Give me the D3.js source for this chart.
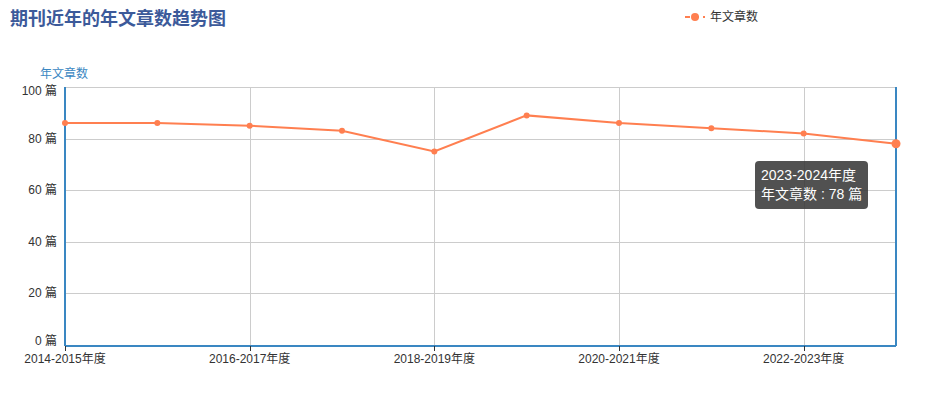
<!DOCTYPE html>
<html>
<head>
<meta charset="utf-8">
<script src="https://cdn.jsdelivr.net/npm/d3@7/dist/d3.min.js"></script>
<style>
  body { margin: 0; background: #fff; }
  #chart { position: relative; width: 931px; height: 393px; font-family: "Liberation Sans", "Noto Sans CJK SC", sans-serif; }
  .tip { position: absolute; background: rgba(50,50,50,0.85); color: #fff; border-radius: 4px;
         padding: 5px 6px; font-size: 14px; line-height: 19px; white-space: nowrap; }
</style>
</head>
<body>
<div id="chart"></div>
<script>
// 年度 / 年文章数
var years = ["2014-2015年度", "2015-2016年度", "2016-2017年度", "2017-2018年度", "2018-2019年度",
             "2019-2020年度", "2020-2021年度", "2021-2022年度", "2022-2023年度", "2023-2024年度"];
var counts = [86, 86, 85, 83, 75, 89, 86, 84, 82, 78];
var yTicks = [0, 20, 40, 60, 80, 100];

var W = 931, H = 393;
var m = {left: 65, right: 35, top: 87, bottom: 48};
var lineColor = "#ff7f50", axisColor = "#3a87c2";

var svg = d3.select("#chart").append("svg").attr("width", W).attr("height", H);

var x = d3.scalePoint().domain(years).range([m.left, W - m.right]);
var y = d3.scaleLinear().domain([0, 100]).range([H - m.bottom, m.top]);

// title
svg.append("text").attr("x", 10).attr("y", 25)
   .attr("font-size", 18).attr("font-weight", "bold").attr("fill", "#3c5a9a")
   .text("期刊近年的年文章数趋势图");

// legend
var lg = svg.append("g").attr("transform", "translate(685,17)");
lg.append("line").attr("x1", 0).attr("x2", 20).attr("y1", 0).attr("y2", 0)
  .attr("stroke", lineColor).attr("stroke-width", 2).attr("stroke-dasharray", "5,4");
lg.append("circle").attr("cx", 10).attr("cy", 0).attr("r", 4).attr("fill", lineColor);
lg.append("text").attr("x", 25).attr("y", 4).attr("font-size", 12).attr("fill", "#333").text("年文章数");

// y axis name
svg.append("text").attr("x", 40).attr("y", 78).attr("font-size", 12).attr("fill", axisColor).text("年文章数");

// horizontal grid
svg.append("g").selectAll("line").data(yTicks).join("line")
   .attr("x1", m.left).attr("x2", W - m.right)
   .attr("y1", d => Math.round(y(d)) + 0.5).attr("y2", d => Math.round(y(d)) + 0.5)
   .attr("stroke", "#ccc");

// vertical grid at labelled categories
var shown = years.filter((d, i) => i % 2 === 0);
svg.append("g").selectAll("line").data(shown).join("line")
   .attr("x1", d => Math.round(x(d)) + 0.5).attr("x2", d => Math.round(x(d)) + 0.5)
   .attr("y1", m.top).attr("y2", H - m.bottom)
   .attr("stroke", "#ccc");

// y tick labels
svg.append("g").selectAll("text").data(yTicks).join("text")
   .attr("x", m.left - 8)
   .attr("y", d => y(d) + (d === 0 ? 0 : d === 100 ? 8 : 4))
   .attr("text-anchor", "end").attr("font-size", 12).attr("fill", "#333")
   .text(d => d + " 篇");

// axis lines
svg.append("line").attr("x1", m.left).attr("x2", m.left).attr("y1", m.top).attr("y2", H - m.bottom + 1)
   .attr("stroke", axisColor).attr("stroke-width", 2);
svg.append("line").attr("x1", W - m.right).attr("x2", W - m.right).attr("y1", m.top).attr("y2", H - m.bottom + 1)
   .attr("stroke", axisColor).attr("stroke-width", 2);
svg.append("line").attr("x1", m.left).attr("x2", W - m.right).attr("y1", H - m.bottom + 1).attr("y2", H - m.bottom + 1)
   .attr("stroke", axisColor).attr("stroke-width", 2);

// x ticks + labels
var xg = svg.append("g");
xg.selectAll("line").data(shown).join("line")
  .attr("x1", d => Math.round(x(d)) + 0.5).attr("x2", d => Math.round(x(d)) + 0.5)
  .attr("y1", H - m.bottom + 1).attr("y2", H - m.bottom + 6)
  .attr("stroke", "#333");
xg.selectAll("text").data(shown).join("text")
  .attr("x", d => x(d)).attr("y", H - m.bottom + 18)
  .attr("text-anchor", "middle").attr("font-size", 12).attr("fill", "#333")
  .text(d => d);

// line
var line = d3.line().x((d, i) => x(years[i])).y(d => y(d));
svg.append("path").datum(counts).attr("d", line)
   .attr("fill", "none").attr("stroke", lineColor).attr("stroke-width", 2);

svg.append("g").selectAll("circle").data(counts).join("circle")
   .attr("cx", (d, i) => x(years[i])).attr("cy", d => y(d))
   .attr("r", (d, i) => i === counts.length - 1 ? 4.5 : 3)
   .attr("fill", lineColor);

// tooltip for last point
var li = counts.length - 1;
d3.select("#chart").append("div").attr("class", "tip")
  .style("left", (x(years[li]) - 141) + "px").style("top", (y(counts[li]) + 17) + "px")
  .html(years[li] + "<br>年文章数 : " + counts[li] + " 篇");
</script>
</body>
</html>
